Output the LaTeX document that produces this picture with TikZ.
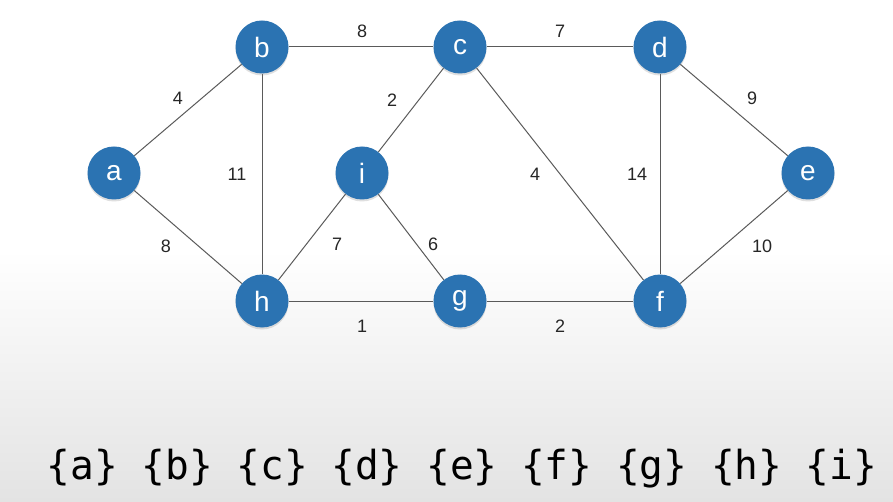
\documentclass[tikz,border=0pt]{standalone}
\usepackage{fontspec}
\setmainfont{Liberation Sans}
\newfontfamily\monof{DejaVu Sans Mono}
\usetikzlibrary{shadows}
\definecolor{nodeblue}{HTML}{2B73B2}
\definecolor{edgegray}{HTML}{5A5A5A}
\definecolor{bgbottom}{HTML}{E3E3E3}
\pgfdeclarelayer{back}
\pgfdeclarelayer{edges}
\pgfsetlayers{back,edges,main}
\tikzset{
  vtx/.style={circle, fill=nodeblue, minimum size=53pt, inner sep=0pt, text=white,
    font=\fontsize{28}{28}\selectfont,
    drop shadow={opacity=0.25, shadow xshift=0pt, shadow yshift=-2pt}},
  edge/.style={draw=edgegray, line width=1pt},
  wlabel/.style={font=\fontsize{18}{18}\selectfont, text=black!85},
}
\begin{document}
\begin{tikzpicture}[x=1pt,y=-1pt]
\useasboundingbox (0,0) rectangle (893,502);
\begin{pgfonlayer}{back}
\fill[white] (0,0) rectangle (893,502);
\shade[top color=white, bottom color=bgbottom] (0,250) rectangle (893,502);
\end{pgfonlayer}
% vertices
\node[vtx] (a) at (114,173) {a};
\node[vtx] (b) at (262,47) {b};
\node[vtx] (c) at (460,47) {c};
\node[vtx] (d) at (660,47) {d};
\node[vtx] (e) at (808,173) {e};
\node[vtx] (f) at (660,301) {f};
\node[vtx] (g) at (460,301) {g};
\node[vtx] (h) at (262,301) {h};
\node[vtx] (i) at (362,173) {i};
% edges
\begin{pgfonlayer}{edges}
\draw[edge] (a) -- (b);
\draw[edge] (a) -- (h);
\draw[edge] (b) -- (c);
\draw[edge] (b) -- (h);
\draw[edge] (c) -- (d);
\draw[edge] (c) -- (i);
\draw[edge] (c) -- (f);
\draw[edge] (d) -- (e);
\draw[edge] (d) -- (f);
\draw[edge] (e) -- (f);
\draw[edge] (i) -- (h);
\draw[edge] (i) -- (g);
\draw[edge] (h) -- (g);
\draw[edge] (g) -- (f);
\end{pgfonlayer}
% weights
\node[wlabel] (w1) at (178,98) {4};
\node[wlabel] (w2) at (362,31) {8};
\node[wlabel] (w3) at (560,31) {7};
\node[wlabel] (w4) at (392,100) {2};
\node[wlabel] (w5) at (237,174) {11};
\node[wlabel] (w6) at (535,174) {4};
\node[wlabel] (w7) at (637,174) {14};
\node[wlabel] (w8) at (752,98) {9};
\node[wlabel] (w9) at (166,246) {8};
\node[wlabel] (w10) at (337,244) {7};
\node[wlabel] (w11) at (433,244) {6};
\node[wlabel] (w12) at (762,246) {10};
\node[wlabel] (w13) at (362,326) {1};
\node[wlabel] (w14) at (560,326) {2};
% sets
\node[font=\monof\fontsize{40}{40}\selectfont, xscale=0.985, inner sep=0pt] (sets) at (462,469) {\{a\} \{b\} \{c\} \{d\} \{e\} \{f\} \{g\} \{h\} \{i\}};
\end{tikzpicture}
\end{document}
